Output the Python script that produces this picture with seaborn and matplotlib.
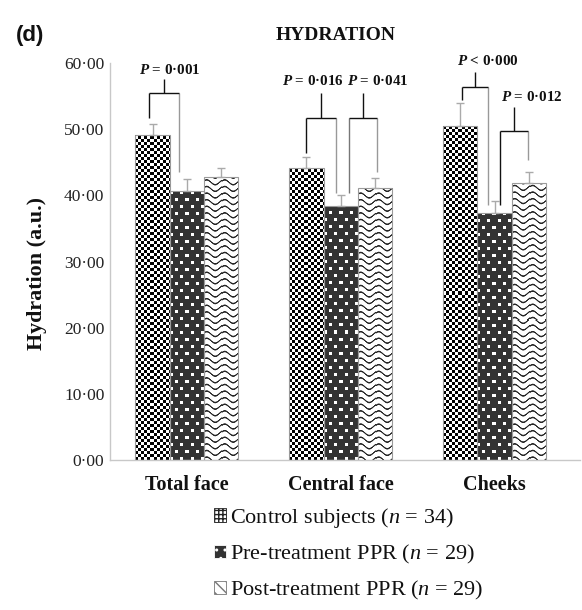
import numpy as np
import pandas as pd
import seaborn as sns
import matplotlib
matplotlib.use("Agg")
import matplotlib.pyplot as plt
from matplotlib.patches import Patch

# ---------------- data ----------------
regions = ["Total face", "Central face", "Cheeks"]
groups = ["Control subjects", "Pre-treatment PPR", "Post-treatment PPR"]
group_n = [34, 29, 29]
control = [49.1, 44.1, 50.5]
pre = [40.6, 38.4, 37.3]
post = [42.7, 41.1, 41.9]
control_err = [1.7, 1.7, 3.5]
pre_err = [1.9, 1.6, 1.9]
post_err = [1.4, 1.5, 1.6]
y_ticks = [0, 10, 20, 30, 40, 50, 60]
# significance brackets: (region index, bar a, bar b)
bracket_pairs = [(0, 0, 1), (1, 0, 1), (1, 1, 2), (2, 0, 1), (2, 1, 2)]
p_texts = ["= 0·001", "= 0·016", "= 0·041", "< 0·000", "= 0·012"]

# bracket geometry (styling/positions)
br_top = [55.5, 51.7, 51.7, 56.4, 49.7]
br_stem = [57.6, 55.5, 55.5, 58.6, 53.4]
br_left_bot = [51.7, 46.4, 40.4, 54.4, 38.5]
br_right_bot = [43.5, 40.4, 43.5, 38.5, 45.3]
br_left_off = [-0.09, 0.0, 0.23, 0.06, 0.17]
br_right_off = [-0.22, -0.15, 0.04, -0.20, -0.04]
lab_dx = [0.036, -0.055, 0.097, 0.084, 0.117]
lab_y = [58.9, 57.3, 57.3, 60.3, 54.9]
br_left_col = ["#111111", "#111111", "#777777", "#111111", "#111111"]

sns.set_theme(style="white")
plt.rcParams["font.family"] = ["Liberation Serif", "DejaVu Serif"]
plt.rcParams["mathtext.fontset"] = "custom"
plt.rcParams["mathtext.rm"] = "Liberation Serif"
plt.rcParams["mathtext.it"] = "Liberation Serif:italic"
plt.rcParams["mathtext.bf"] = "Liberation Serif:bold"
plt.rcParams["mathtext.bfit"] = "Liberation Serif:italic:bold"

df = pd.DataFrame({
    "region": regions * 3,
    "group": [g for g in groups for _ in regions],
    "value": control + pre + post,
})
vals = [control, pre, post]
errs = [control_err, pre_err, post_err]

fig = plt.figure(figsize=(5.82, 6.10), dpi=100)
ax = fig.add_axes([110 / 582, 1 - 460 / 610, (580 - 110) / 582, (460 - 63) / 610])

sns.barplot(data=df, x="region", y="value", hue="group", order=regions,
            hue_order=groups, palette=["white"] * 3, edgecolor="#9a9a9a",
            linewidth=0.8, width=0.67, errorbar=None, legend=False, ax=ax)

ax.set_ylim(0, 60)
ax.set_xlim(-0.5, 2.555)

bars = sorted(ax.patches, key=lambda p: p.get_x())
fig.canvas.draw()


def pattern(kind, w, h):
    yy, xx = np.mgrid[0:h, 0:w]
    if kind == 0:
        v = ((xx // 3 + yy // 3) % 2).astype(float)
    elif kind == 1:
        v = np.full((h, w), 0.2)
        m1 = ((xx % 10) < 3) & ((yy % 14) < 3)
        m2 = (((xx + 5) % 10) < 3) & (((yy + 7) % 14) < 3)
        v[m1 | m2] = 1.0
    else:
        sp = 6.6
        d = (yy - 2.4 * np.sin(2 * np.pi * (xx + 2) / 17.0)) % sp
        dist = np.minimum(d, sp - d)
        v = np.clip((dist - 0.4) / 0.8, 0, 1) * 0.85 + 0.15
    return v


for i, bar in enumerate(bars):
    kind = i % 3
    bb = bar.get_window_extent()
    w = max(int(round(bb.width)), 1)
    h = max(int(round(bb.height)), 1)
    img = pattern(kind, w, h)
    x0 = bar.get_x()
    im = ax.imshow(img, cmap="gray", vmin=0, vmax=1, origin="lower",
                   extent=(x0, x0 + bar.get_width(), 0, bar.get_height()),
                   aspect="auto", interpolation="nearest", zorder=2)
    im.set_clip_path(bar)
    bar.set_facecolor("none")
    bar.set_zorder(3)

ax.set_ylim(0, 60)
ax.set_xlim(-0.5, 2.555)

# error bars (upper only)
for i, bar in enumerate(bars):
    r, g = divmod(i, 3)
    cx = bar.get_x() + bar.get_width() / 2
    ax.errorbar([cx], [vals[g][r]], yerr=[[0], [errs[g][r]]], fmt="none",
                ecolor="#aaaaaa", elinewidth=1.0, capsize=3.0, capthick=1.0,
                zorder=4)

# significance brackets
bw = bars[0].get_width()
for k, (r, a, b) in enumerate(bracket_pairs):
    ba, bb_ = bars[r * 3 + a], bars[r * 3 + b]
    xa = ba.get_x() + bw / 2 + br_left_off[k] * bw
    xb = bb_.get_x() + bw / 2 + br_right_off[k] * bw
    xm = (xa + xb) / 2
    top = br_top[k]
    ax.plot([xa, xa], [br_left_bot[k], top], color=br_left_col[k], lw=1.0,
            zorder=5, solid_capstyle="butt")
    ax.plot([xb, xb], [br_right_bot[k], top], color="#999999", lw=1.0,
            zorder=5, solid_capstyle="butt")
    ax.plot([xa, xb], [top, top], color="#111111", lw=1.0, zorder=5,
            solid_capstyle="butt")
    ax.plot([xm, xm], [top, br_stem[k]], color="#111111", lw=1.0, zorder=5,
            solid_capstyle="butt")
    ax.text(xm + lab_dx[k], lab_y[k], r"$\mathbfit{P}$ " + p_texts[k],
            ha="center", va="center", fontsize=10.8, fontweight="bold",
            color="#111111", clip_on=False, zorder=6)

# axes styling
ax.set_yticks(y_ticks)
ax.set_yticklabels([f"{v:.2f}".replace(".", "·") for v in y_ticks],
                   fontsize=12.5, color="#222222")
ax.tick_params(axis="y", length=0, pad=4)
ax.tick_params(axis="x", length=0, pad=11)
for lab in ax.get_xticklabels():
    lab.set_fontweight("bold")
    lab.set_fontsize(14.5)
    lab.set_color("#111111")
ax.set_xlabel("")
ax.set_ylabel("Hydration (a.u.)", fontsize=15.8, fontweight="bold",
              color="#111111")
ax.yaxis.set_label_coords(-0.135, 0.471)
for s in ["top", "right"]:
    ax.spines[s].set_visible(False)
for s in ["left", "bottom"]:
    ax.spines[s].set_color("#c8c8c8")
    ax.spines[s].set_linewidth(1.0)

fig.text(336 / 582, 1 - 35.5 / 610, "HYDRATION", ha="center", va="center",
         fontsize=14, fontweight="bold", color="#111111")
fig.text(16 / 582, 1 - 35 / 610, "(d)", ha="left", va="center", fontsize=16,
         fontweight="bold", family="Liberation Sans", color="#111111")

# legend
handles = [
    Patch(facecolor="white", edgecolor="#222222", hatch="++++", linewidth=0.6),
    Patch(facecolor="#333333", edgecolor="#ffffff", hatch="..", linewidth=0.6),
    Patch(facecolor="white", edgecolor="#777777", hatch="\\\\\\", linewidth=0.6),
]
labels = [f"{g} ($\\mathit{{n}}$ = {n})" for g, n in zip(groups, group_n)]
leg = fig.legend(handles, labels, loc="upper left",
                 bbox_to_anchor=(214 / 582, 1 - 506 / 610), frameon=False,
                 fontsize=16, handlelength=0.55, handleheight=0.55,
                 handletextpad=0.15, labelspacing=0.58, borderpad=0,
                 borderaxespad=0)
for t in leg.get_texts():
    t.set_color("#111111")

fig.savefig("out.png", dpi=100)
